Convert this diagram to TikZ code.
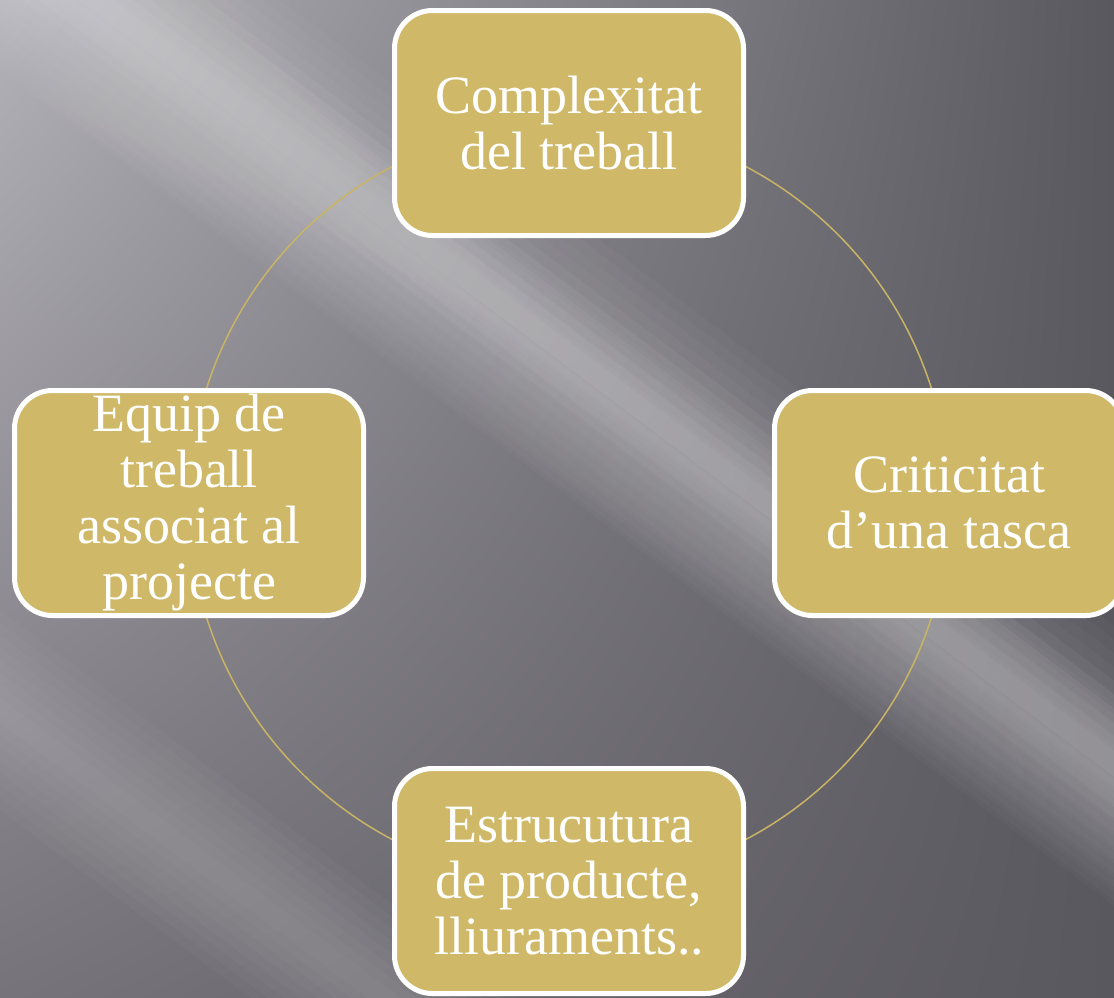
\documentclass[tikz,border=0pt]{standalone}
\usepackage{fontspec}
\setmainfont{Liberation Serif}
\usetikzlibrary{shadings}
\definecolor{boxgold}{RGB}{207,185,104}
\definecolor{ringgold}{RGB}{201,180,101}
\definecolor{bgdark}{RGB}{90,88,95}
\definecolor{bgmid}{RGB}{118,115,122}
\definecolor{bglight}{RGB}{180,178,185}
\tikzset{
  cyclebox/.style={draw=white, line width=5pt, fill=boxgold, rounded corners=38pt,
    minimum width=349pt, minimum height=225pt, align=center, text=white,
    font=\fontsize{54}{56}\selectfont, inner sep=0pt},
  band/.style={fill=white, fill opacity=0.022}
}
\newcommand{\softband}[4]{% x0 y0 halfwidth steps : band along (0.8,0.6)
  \foreach \k in {1,...,#4}{
    \pgfmathsetmacro{\w}{#3*\k/#4}
    \fill[band] ({#1-1200*0.8-\w*0.6},{#2-1200*0.6+\w*0.8}) -- ({#1+1200*0.8-\w*0.6},{#2+1200*0.6+\w*0.8})
      -- ({#1+1200*0.8+\w*0.6},{#2+1200*0.6-\w*0.8}) -- ({#1-1200*0.8+\w*0.6},{#2-1200*0.6-\w*0.8}) -- cycle;
  }
}
\begin{document}
\begin{tikzpicture}[x=1pt,y=-1pt]
\useasboundingbox (0,0) rectangle (1114,997);
\clip (0,0) rectangle (1114,997);
\fill[bgdark] (0,0) rectangle (1114,997);
\shade[upper left=bglight, upper right=bgdark, lower left=bgmid, lower right=bgdark] (0,0) rectangle (1114,997);
\softband{590}{370}{110}{10}
\softband{230}{130}{90}{8}
\softband{120}{800}{80}{8}
\softband{880}{580}{50}{6}
\draw[ringgold, line width=1.5pt] (569,503) circle[radius=380];
\node[cyclebox] (top) at (569,123) {Complexitat\\del treball};
\node[cyclebox] (right) at (949,503) {Criticitat\\d’una tasca};
\node[cyclebox] (bottom) at (569,881) {Estrucutura\\de producte,\\lliuraments..};
\node[cyclebox] (left) at (189,503) {Equip de\\treball\\associat al\\projecte};
\end{tikzpicture}
\end{document}
